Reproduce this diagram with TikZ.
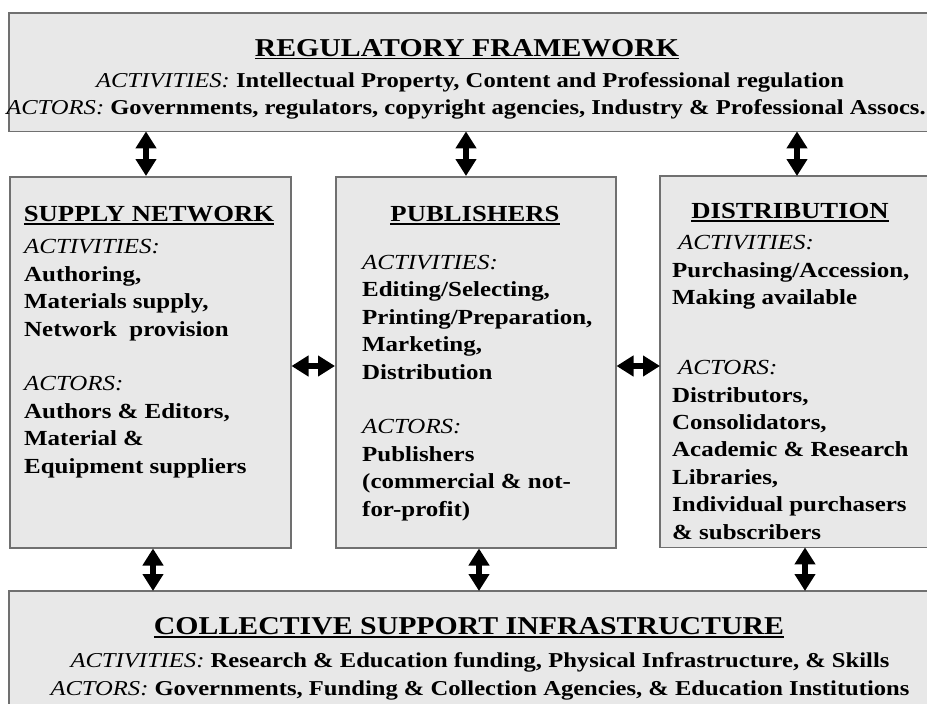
\documentclass[tikz,border=0pt]{standalone}
\usepackage{fontspec}
\setmainfont[FakeStretch=1.16]{Liberation Serif}
\usetikzlibrary{arrows.meta}
\definecolor{boxfill}{HTML}{E8E8E8}
\definecolor{boxline}{HTML}{707070}
\newcommand{\thickul}[1]{\setbox0\hbox{#1}\rlap{\rule[-3.5pt]{\wd0}{1.8pt}}\box0}
\newcommand{\lab}[1]{{\mdseries\itshape #1}}
\begin{document}
\begin{tikzpicture}[x=1pt,y=-1pt,
  box/.style={fill=boxfill,draw=boxline,line width=1.5pt,inner sep=0pt,anchor=north west},
  openbox/.style={fill=boxfill,draw=none,inner sep=0pt,anchor=north west},
  edge/.style={draw=boxline,line width=1.5pt},
  dbl/.style={line width=6pt,{Triangle[width=20pt,length=17pt]}-{Triangle[width=20pt,length=17pt]}},
  ttl/.style={font=\fontsize{25.7}{30}\selectfont\bfseries,anchor=base,inner sep=0pt},
  sub/.style={font=\fontsize{21.2}{25}\selectfont\bfseries,anchor=base,inner sep=0pt},
  hd/.style={font=\fontsize{23}{27}\selectfont\bfseries,anchor=base,inner sep=0pt},
  body/.style={font=\fontsize{21.5}{27.4}\selectfont\bfseries,align=left,anchor=base west,inner sep=0pt}]

\useasboundingbox (0,0) rectangle (927,704);

% boxes
\node[openbox,minimum width=918pt,minimum height=118pt] (reg) at (9,13) {};
\draw[edge] (reg.north east) -- (reg.north west) -- (reg.south west) -- (reg.south east);
\node[box,minimum width=281pt,minimum height=371pt] (sup) at (9,176) {};
\node[box,minimum width=280pt,minimum height=371pt] (pub) at (335,176) {};
\node[openbox,minimum width=267pt,minimum height=371pt] (dis) at (660,176) {};
\draw[edge] (dis.north east) -- (dis.north west) -- (dis.south west) -- (dis.south east);
\node[openbox,minimum width=918pt,minimum height=113pt] (col) at (9,591) {};
\draw[edge] (col.south west) -- (col.north west) -- (col.north east);

% arrow guide coordinates
\coordinate (ta1) at (146,0);
\coordinate (ta2) at (466,0);
\coordinate (ta3) at (797,0);
\coordinate (ba1) at (153,0);
\coordinate (ba2) at (479,0);
\coordinate (ba3) at (805,0);
\coordinate (hy) at (0,366);

\draw[dbl] (reg.south -| ta1) -- (sup.north -| ta1);
\draw[dbl] (reg.south -| ta2) -- (pub.north -| ta2);
\draw[dbl] (reg.south -| ta3) -- (dis.north -| ta3);
\draw[dbl] (sup.south -| ba1) -- (col.north -| ba1);
\draw[dbl] (pub.south -| ba2) -- (col.north -| ba2);
\draw[dbl] (dis.south -| ba3) -- (col.north -| ba3);
\draw[dbl] (sup.east |- hy) -- (pub.west |- hy);
\draw[dbl] (pub.east |- hy) -- (dis.west |- hy);

% top box text
\node[ttl] (regt) at (467,56) {\thickul{REGULATORY FRAMEWORK}};
\node[sub] (rega) at (470,87) {\lab{ACTIVITIES:} Intellectual Property, Content and Professional regulation};
\node[sub] (regb) at (466,114) {\lab{ACTORS:} Governments, regulators, copyright agencies, Industry \& Professional Assocs.};

% middle titles
\node[hd] (supt) at (149,221) {\thickul{SUPPLY NETWORK}};
\node[hd] (pubt) at (475,221) {\thickul{PUBLISHERS}};
\node[hd] (dist) at (790,218) {\thickul{DISTRIBUTION}};

% middle bodies (anchor = baseline of the last line)
\node[body] (supb) at (24,473) {\lab{ACTIVITIES:}\\ Authoring,\\ Materials supply,\\ Network\ \ provision\\[27.4pt]
  \lab{ACTORS:}\\ Authors \& Editors,\\ Material \&\\ Equipment suppliers};
\node[body] (pubb) at (362,516) {\lab{ACTIVITIES:}\\ Editing/Selecting,\\ Printing/Preparation,\\ Marketing,\\ Distribution\\[27.4pt]
  \lab{ACTORS:}\\ Publishers\\ (commercial \& not-\\ for-profit)};
\node[body] (disb) at (672,539) {\hspace*{6pt}\lab{ACTIVITIES:}\\ Purchasing/Accession,\\ Making available\\[42.6pt]
  \hspace*{6pt}\lab{ACTORS:}\\ Distributors,\\ Consolidators,\\ Academic \& Research\\ Libraries,\\ Individual purchasers\\ \& subscribers};

% bottom box text
\node[ttl] (colt) at (469,634) {\thickul{COLLECTIVE SUPPORT INFRASTRUCTURE}};
\node[sub] (cola) at (480,667) {\lab{ACTIVITIES:} Research \& Education funding, Physical Infrastructure, \& Skills};
\node[sub] (colb) at (480,695) {\lab{ACTORS:} Governments, Funding \& Collection Agencies, \& Education Institutions};
\end{tikzpicture}
\end{document}
